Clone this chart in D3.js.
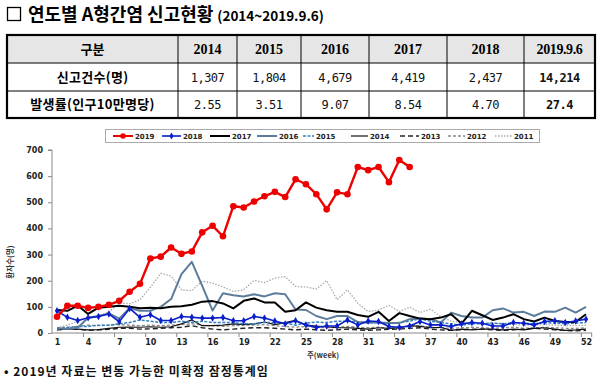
<!DOCTYPE html>
<html><head><meta charset="utf-8">
<script src="https://cdn.jsdelivr.net/npm/d3@7"></script>
<style>body{margin:0;background:#fff}svg{display:block}</style>
</head><body>
<svg id="c" width="600" height="381"></svg>
<script>
// ---- table data ----
const tableHeads = ["구분","2014","2015","2016","2017","2018","2019.9.6"];
const rowLabels = ["신고건수(명)","발생률(인구10만명당)"];
const cases = ["1,307","1,804","4,679","4,419","2,437","14,214"];
const rates = ["2.55","3.51","9.07","8.54","4.70","27.4"];

// ---- chart data (weekly reports) ----
const yTicks = [0,100,200,300,400,500,600,700];
const xTickLabels = [1,4,7,10,13,16,19,22,25,28,31,34,37,40,43,46,49,52];
const s2019 = [62,104,104,96,100,108,123,158,188,285,292,327,303,312,385,410,370,485,480,503,523,540,520,588,569,531,473,538,531,635,623,635,577,662,635];
const s2018 = [85,60,48,58,63,73,43,94,60,70,48,48,63,60,57,57,59,47,47,63,57,46,35,47,31,21,27,27,50,31,46,44,25,22,27,44,31,31,25,35,40,37,27,27,40,37,31,44,47,40,46,53];
const s2017 = [88,85,105,73,97,100,104,100,95,97,95,100,102,108,120,122,113,94,123,132,117,117,81,87,117,97,87,81,81,69,62,81,46,76,65,55,53,59,72,36,85,68,50,59,72,53,44,59,46,42,42,72];
const s2016 = [18,15,20,58,65,75,55,95,85,85,100,130,225,272,180,86,152,144,140,148,140,152,148,90,88,65,53,65,65,42,40,40,38,38,53,55,53,40,78,65,59,59,87,94,78,81,65,82,81,97,78,100];
const s2015 = [15,20,25,25,30,30,35,40,50,45,40,40,45,40,45,40,40,40,35,35,40,40,38,30,38,42,40,45,45,42,38,40,35,40,45,55,45,40,35,30,35,35,38,35,40,38,35,40,38,35,38,40];
const s2014 = [13,15,15,12,13,18,22,23,22,24,22,24,35,50,28,28,30,35,32,35,42,32,40,48,30,26,24,20,20,18,15,20,18,20,28,25,20,22,10,15,12,15,15,12,15,12,18,20,15,10,12,15];
const s2013 = [12,15,14,10,12,14,18,18,15,16,18,20,22,28,20,15,12,15,18,20,20,18,15,12,15,12,10,12,15,12,10,12,14,15,18,20,15,12,10,12,15,15,12,10,12,15,18,15,12,10,8,10];
const s2012 = [20,22,25,30,28,30,32,30,28,30,28,30,32,35,30,28,25,28,30,30,32,28,25,22,25,22,20,22,25,22,20,22,18,20,25,28,22,20,18,20,22,20,18,20,22,18,20,22,20,18,18,20];
const s2011 = [20,30,45,55,65,80,115,112,127,175,228,218,165,162,198,191,176,159,165,201,193,210,216,178,176,168,200,127,165,114,82,88,106,82,99,78,91,63,45,40,38,35,38,35,33,30,30,32,30,28,28,30];

const svg = d3.select("#c");
const KR = "'Noto Sans CJK KR', sans-serif";

// ---- title ----
svg.append("rect").attr("x",7.5).attr("y",7.5).attr("width",13).attr("height",13)
  .attr("fill","none").attr("stroke","#000").attr("stroke-width",1.3);
const tt = svg.append("text").attr("x",28).attr("y",21).attr("font-family",KR).attr("font-weight",700).attr("fill","#000");
tt.append("tspan").attr("font-size",18).text("연도별 A형간염 신고현황");
tt.append("tspan").attr("font-size",13.5).attr("dx",4).text("(2014~2019.9.6)");

// ---- table ----
const colX = [7,178,237,301,369,447,524,595];
const rowY = [35,63,91,118];
const tg = svg.append("g");
tg.append("rect").attr("x",colX[0]).attr("y",rowY[0]).attr("width",colX[7]-colX[0]).attr("height",rowY[1]-rowY[0]).attr("fill","#e6e6e6");
rowY.slice(1,3).forEach(y=>tg.append("line").attr("x1",colX[0]).attr("x2",colX[7]).attr("y1",y).attr("y2",y).attr("stroke","#000").attr("stroke-width",1));
colX.slice(1,7).forEach(x=>tg.append("line").attr("x1",x).attr("x2",x).attr("y1",rowY[0]).attr("y2",rowY[3]).attr("stroke","#000").attr("stroke-width",1));
tg.append("rect").attr("x",colX[0]).attr("y",rowY[0]).attr("width",colX[7]-colX[0]).attr("height",rowY[3]-rowY[0]).attr("fill","none").attr("stroke","#000").attr("stroke-width",2.2);
const cx = i => (colX[i]+colX[i+1])/2;
const cy = r => (rowY[r]+rowY[r+1])/2 + 4.5;
tableHeads.forEach((h,i)=>{
  tg.append("text").attr("x",cx(i)).attr("y",cy(0)).attr("text-anchor","middle")
    .attr("font-family", i===0?KR:"'Liberation Serif', serif").attr("font-weight",700)
    .attr("font-size", i===0?13:14).attr("letter-spacing", i===6?-0.4:0).text(h);
});
rowLabels.forEach((l,r)=>{
  tg.append("text").attr("x",cx(0)).attr("y",cy(r+1)).attr("text-anchor","middle")
    .attr("font-family",KR).attr("font-weight",700).attr("font-size",13).attr("letter-spacing",0.3).text(l);
});
[cases,rates].forEach((arr,r)=>{
  arr.forEach((v,i)=>{
    tg.append("text").attr("x",cx(i+1)).attr("y",cy(r+1)).attr("text-anchor","middle")
      .attr("font-family","'DejaVu Sans Mono', monospace").attr("font-size",12)
      .attr("font-weight", i===5?700:400).attr("letter-spacing",-0.5).attr("fill","#111").text(v);
  });
});

// ---- chart ----
const x = d3.scaleLinear().domain([1,52]).range([57,586]);
const y = d3.scaleLinear().domain([0,700]).range([333,150]);

const yAxis = d3.axisLeft(y).tickValues(yTicks).tickSize(4).tickPadding(5);
const gy = svg.append("g").attr("transform","translate(52,0)").call(yAxis);
gy.select(".domain").attr("stroke","#888").attr("d","M-4,"+y(700)+"H0V"+y(0));
gy.selectAll(".tick line").attr("stroke","#888");
gy.selectAll("text").attr("font-family","'DejaVu Sans', sans-serif").attr("font-weight",700).attr("font-size",8).attr("fill","#222");

const gxl = svg.append("g").attr("transform","translate(0,"+y(0)+")")
  .call(d3.axisBottom(x).tickValues(xTickLabels).tickSize(0).tickPadding(6));
gxl.select(".domain").attr("stroke","#888").attr("d","M52,0H592");
gxl.selectAll("text").attr("font-family","'DejaVu Sans', sans-serif").attr("font-weight",700).attr("font-size",8).attr("fill","#222");
const gxt = svg.append("g").attr("transform","translate(0,"+y(0)+")")
  .call(d3.axisBottom(x).tickValues(xTickLabels.slice(1).map(v=>v-0.5).concat([52.5])).tickSize(4).tickFormat(""));
gxt.select(".domain").remove();
gxt.selectAll(".tick line").attr("stroke","#888");

svg.append("text").attr("x",323).attr("y",358).attr("text-anchor","middle")
  .attr("font-family",KR).attr("font-size",7.5).attr("font-weight",700).attr("fill","#333")
  .text("주(week)");
svg.append("text").attr("transform","translate(13,262) rotate(-90)").attr("text-anchor","middle")
  .attr("font-family",KR).attr("font-size",7.5).attr("font-weight",700).attr("fill","#333")
  .text("환자수(명)");

const series = [
  {name:"2011", data:s2011, color:"#aaaaaa", w:1.3, dash:"1.5,1.5"},
  {name:"2012", data:s2012, color:"#888888", w:1.3, dash:"3,2"},
  {name:"2013", data:s2013, color:"#222222", w:1.4, dash:"5,3"},
  {name:"2014", data:s2014, color:"#111111", w:1.2, dash:null},
  {name:"2015", data:s2015, color:"#2f7fc1", w:1.5, dash:"3,1.5"},
  {name:"2016", data:s2016, color:"#5c7c9c", w:2, dash:null},
  {name:"2017", data:s2017, color:"#000000", w:2, dash:null},
  {name:"2018", data:s2018, color:"#0a1ecc", w:1.6, dash:null, marker:"diamond"},
  {name:"2019", data:s2019, color:"#ee0000", w:2.4, dash:null, marker:"circle"}
];
const line = d3.line().x((d,i)=>x(i+1)).y(d=>y(d));
const pg = svg.append("g");
series.forEach(s=>{
  pg.append("path").attr("d",line(s.data)).attr("fill","none").attr("stroke",s.color)
    .attr("stroke-width",s.w).attr("stroke-dasharray",s.dash).attr("stroke-linejoin","round");
  if(s.marker==="circle"){
    pg.selectAll(null).data(s.data).join("circle").attr("cx",(d,i)=>x(i+1)).attr("cy",d=>y(d)).attr("r",3.3).attr("fill",s.color);
  } else if(s.marker==="diamond"){
    pg.selectAll(null).data(s.data).join("path").attr("transform",(d,i)=>"translate("+x(i+1)+","+y(d)+")")
      .attr("d",d3.symbol(d3.symbolDiamond,16)()).attr("fill",s.color);
  }
});

// ---- legend ----
const lg = svg.append("g");
lg.append("rect").attr("x",105.5).attr("y",129.5).attr("width",434).attr("height",13).attr("fill","#fff").attr("stroke","#aaa").attr("stroke-width",1);
const legendOrder = ["2019","2018","2017","2016","2015","2014","2013","2012","2011"];
const legX = [113,162,210,257,303,351,400,448,495];
const legLen = [20,19,20,20,11,17,19,17,17];
legendOrder.forEach((n,i)=>{
  const s = series.find(d=>d.name===n);
  const ly = 136;
  lg.append("line").attr("x1",legX[i]).attr("x2",legX[i]+legLen[i]).attr("y1",ly).attr("y2",ly)
    .attr("stroke",s.color).attr("stroke-width",Math.min(s.w,2)).attr("stroke-dasharray",s.dash);
  if(s.marker==="circle") lg.append("circle").attr("cx",legX[i]+legLen[i]/2).attr("cy",ly).attr("r",2.8).attr("fill",s.color);
  if(s.marker==="diamond") lg.append("path").attr("transform","translate("+(legX[i]+legLen[i]/2)+","+ly+")").attr("d",d3.symbol(d3.symbolDiamond,14)()).attr("fill",s.color);
  lg.append("text").attr("x",legX[i]+legLen[i]+2).attr("y",ly+2.6).attr("font-family","'DejaVu Sans', sans-serif")
    .attr("font-size",7).attr("font-weight",700).attr("fill","#222").text(n);
});

// ---- footnote ----
svg.append("text").attr("x",4).attr("y",376).attr("font-family",KR).attr("font-size",12).attr("font-weight",700)
  .attr("letter-spacing",1).attr("fill","#111")
  .text("• 2019년 자료는 변동 가능한 미확정 잠정통계임");
</script>
</body></html>
